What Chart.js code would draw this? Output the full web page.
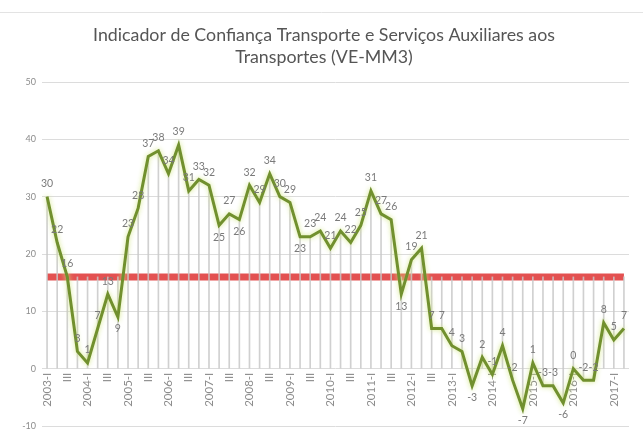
<!DOCTYPE html>
<html><head><meta charset="utf-8">
<script src="https://cdn.jsdelivr.net/npm/chart.js@4.4.0/dist/chart.umd.min.js"></script>
<style>html,body{margin:0;padding:0;background:#fff;overflow:hidden;}</style>
</head><body>
<canvas id="c" width="643" height="432"></canvas>
<script>
const titleLines = ['Indicador de Confiança Transporte e Serviços Auxiliares aos', 'Transportes (VE-MM3)'];

const categories = [
  '2003-I','II','III','IV', '2004-I','II','III','IV', '2005-I','II','III','IV',
  '2006-I','II','III','IV', '2007-I','II','III','IV', '2008-I','II','III','IV',
  '2009-I','II','III','IV', '2010-I','II','III','IV', '2011-I','II','III','IV',
  '2012-I','II','III','IV', '2013-I','II','III','IV', '2014-I','II','III','IV',
  '2015-I','II','III','IV', '2016-I','II','III','IV', '2017-I','II'
];

const indicador = [
  30, 22, 16, 3,   1, 7, 13, 9,   23, 28, 37, 38,
  34, 39, 31, 33,  32, 25, 27, 26, 32, 29, 34, 30,
  29, 23, 23, 24,  21, 24, 22, 25, 31, 27, 26, 13,
  19, 21, 7, 7,    4, 3, -3, 2,   -1, 4, -2, -7,
  1, -3, -3, -6,   0, -2, -2, 8,  5, 7
];

const media = [
  16,16,16,16, 16,16,16,16, 16,16,16,16, 16,16,16,16, 16,16,16,16,
  16,16,16,16, 16,16,16,16, 16,16,16,16, 16,16,16,16, 16,16,16,16,
  16,16,16,16, 16,16,16,16, 16,16,16,16, 16,16,16,16, 16,16
];

const yTicks = [-10, 0, 10, 20, 30, 40, 50];

// indices of data labels drawn under their point (style only)
const labelsBelow = [7, 17, 19, 25, 35, 42, 47, 51];

// tick label shown: every "I" quarter, and "III" up to 2012
function showTick(i) {
  const lab = categories[i];
  if (lab.endsWith('-I')) return true;
  if (lab === 'III' && i < 40) return true;
  return false;
}

const dropLines = indicador.map((v, i) => [Math.min(0, v), Math.max(media[i], v)]);

const glowPlugin = {
  id: 'glow',
  beforeDatasetDraw(chart, args) {
    if (args.index === 2) {
      const ctx = chart.ctx;
      ctx.save();
      ctx.shadowColor = 'rgba(210,230,130,0.95)';
      ctx.shadowBlur = 5;
    }
  },
  afterDatasetDraw(chart, args) {
    if (args.index === 2) chart.ctx.restore();
  }
};

const labelPlugin = {
  id: 'pointLabels',
  afterDatasetsDraw(chart) {
    const ctx = chart.ctx;
    const meta = chart.getDatasetMeta(2);
    ctx.save();
    ctx.font = '10.5px Lato';
    ctx.fillStyle = '#7a7a7a';
    ctx.textAlign = 'center';
    ctx.textBaseline = 'middle';
    meta.data.forEach((pt, i) => {
      const below = labelsBelow.includes(i);
      ctx.fillText(String(indicador[i]), pt.x, pt.y + (below ? 12 : -13));
    });
    ctx.restore();
  }
};

const titlePlugin = {
  id: 'customTitle',
  beforeDraw(chart) {
    const ctx = chart.ctx;
    ctx.save();
    ctx.strokeStyle = '#e3e3e3';
    ctx.lineWidth = 1;
    ctx.beginPath();
    ctx.moveTo(0, 12.5);
    ctx.lineTo(643, 12.5);
    ctx.stroke();
    ctx.font = '17.8px Lato';
    ctx.fillStyle = '#555555';
    ctx.textAlign = 'center';
    ctx.textBaseline = 'middle';
    ctx.fillText(titleLines[0], 324, 35);
    ctx.fillText(titleLines[1], 324, 57);
    ctx.restore();
  }
};

new Chart(document.getElementById('c'), {
  data: {
    labels: categories,
    datasets: [
      {
        type: 'line', label: 'Média', data: media,
        borderColor: 'rgba(224,62,62,0.9)', borderWidth: 7,
        pointRadius: 0, tension: 0, order: 2, borderCapStyle: 'butt'
      },
      {
        type: 'bar', label: 'drop', data: dropLines,
        backgroundColor: 'rgba(200,200,200,0.85)', barThickness: 1,
        borderWidth: 0, order: 1
      },
      {
        type: 'line', label: 'Indicador', data: indicador,
        borderColor: '#71902e', borderWidth: 3,
        pointRadius: 0, tension: 0, order: 0, borderJoinStyle: 'miter'
      }
    ]
  },
  options: {
    responsive: false,
    animation: false,
    devicePixelRatio: 1,
    layout: { padding: { top: 82, right: 14, bottom: 6, left: 0 } },
    plugins: { legend: { display: false }, tooltip: { enabled: false }, title: { display: false } },
    scales: {
      x: {
        type: 'category',
        position: { y: 0 },
        offset: true,
        grid: { display: false, drawTicks: false },
        border: { display: false },
        ticks: {
          autoSkip: false, minRotation: 90, maxRotation: 90, padding: 4,
          color: '#8c8c8c', font: { family: 'Lato', size: 11.5 },
          callback: (v, i) => showTick(i) ? categories[i] : ''
        }
      },
      y: {
        min: yTicks[0], max: yTicks[yTicks.length - 1],
        afterBuildTicks(scale) { scale.ticks = yTicks.map(v => ({ value: v })); },
        afterFit(scale) { scale.width = 42; scale.paddingTop = 0; scale.paddingBottom = 0; },
        grid: { color: '#dcdcdc', drawTicks: false },
        border: { display: false },
        ticks: { color: '#8c8c8c', font: { family: 'Lato', size: 9 }, padding: 6 }
      }
    }
  },
  plugins: [glowPlugin, labelPlugin, titlePlugin]
});
</script>
</body></html>
